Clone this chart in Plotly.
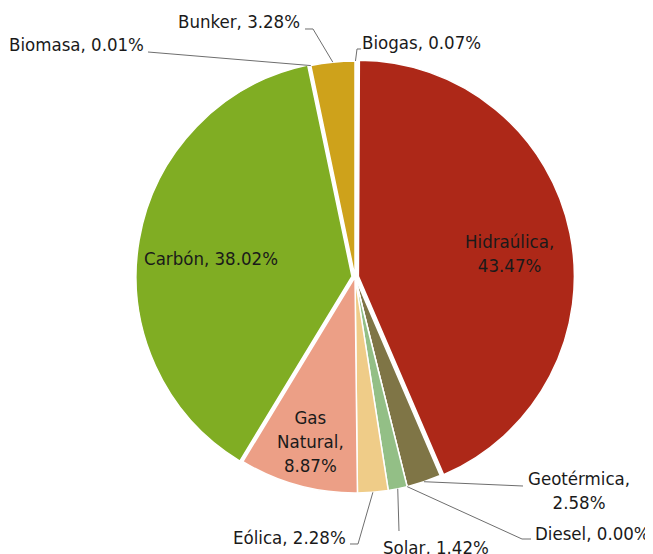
import math
import plotly.graph_objects as go

# ---- data (clockwise from 12 o'clock) ----
labels = ["Biogas", "Hidraúlica", "Geotérmica", "Diesel", "Solar",
          "Eólica", "Gas Natural", "Carbón", "Biomasa", "Bunker"]
values = [0.07, 43.47, 2.58, 0.00, 1.42, 2.28, 8.87, 38.02, 0.01, 3.28]

# ---- styles ----
colors = ["#F0A35E", "#AD2818", "#7F7546", "#4F6228", "#93BF86",
          "#EFCC88", "#EC9F86", "#80AD23", "#B7D39A", "#CEA21B"]
pulls = [0, 0.016, 0, 0, 0, 0, 0, 0.014, 0, 0]

OFF = 8                              # default page body margin
W, H = 653 - OFF, 554 - OFF          # figure size
CX, CY, R = 355, 277, 216            # pie centre / radius, window pixels
FONT = "DejaVu Sans Condensed, DejaVu Sans, sans-serif"
FS = 18.5
TXT = "#1a1a1a"
LINE = "#6e6e6e"

maxpull = max(pulls)
box = 2 * R * (1 + maxpull)
fcx, fcy = CX - OFF, CY - OFF
dom_x = [(fcx - box / 2) / W, (fcx + box / 2) / W]
y0 = 1 - (fcy + box / 2) / H
dom_y = [y0, y0 + box / H]

total = sum(values)
starts, mids = [], []
cum = 0.0
for v in values:
    starts.append(cum / total * 360)
    mids.append((cum + v / 2) / total * 360)
    cum += v


def px(ang, rad):
    a = math.radians(ang)
    return CX + rad * math.sin(a), CY - rad * math.cos(a)


def to_paper(p):
    return (p[0] - OFF) / W, 1 - (p[1] - OFF) / H


def fmt(i, breaks):
    lab = labels[i]
    val = f"{values[i]:.2f}%"
    if breaks == 0:
        return f"{lab}, {val}"
    if breaks == 1:
        return f"{lab},<br>{val}"
    parts = lab.split(" ")
    return "<br>".join(parts[:-1]) + "<br>" + parts[-1] + ",<br>" + val


fig = go.Figure(go.Pie(
    labels=labels, values=values, sort=False, direction="clockwise",
    rotation=0, pull=pulls, textinfo="none", hoverinfo="label+percent",
    marker=dict(colors=colors, line=dict(color="white", width=1.5)),
    domain=dict(x=dom_x, y=dom_y), showlegend=False,
))

annotations = []
shapes = []

# inside labels: (index, text centre in window px, line breaks)
inside = [(1, (509, 254), 1), (7, (211, 259), 0), (6, (310, 441), 2)]
for i, (x, y), b in inside:
    xp, yp = to_paper((x, y))
    annotations.append(dict(x=xp, y=yp, xref="paper", yref="paper",
                            text=fmt(i, b), showarrow=False,
                            xanchor="center", yanchor="middle",
                            font=dict(family=FONT, size=FS, color=TXT)))

# outside labels: index, anchor angle, leader waypoints, text pos, anchor, breaks
outside = [
    (0, mids[0], [(357, 49), (361, 49)], (360, 42), "left", 0),
    (9, mids[9], [(313, 29), (305, 29)], (302, 21), "right", 0),
    (8, starts[9], [(148, 52)], (146, 45), "right", 0),
    (2, mids[2], [(523, 486)], (579, 490), "center", 1),
    (3, starts[4], [(522, 539), (531, 539)], (533, 533), "left", 0),
    (4, mids[4], [(399, 531)], (436, 547), "center", 0),
    (5, mids[5], [(358, 544), (350, 544)], (348, 537), "right", 0),
]
for i, ang, pts, (tx, ty), anc, b in outside:
    start = px(ang, R)
    path = "M {:.5f},{:.5f}".format(*to_paper(start))
    for p in pts:
        path += " L {:.5f},{:.5f}".format(*to_paper(p))
    shapes.append(dict(type="path", path=path, xref="paper", yref="paper",
                       line=dict(color=LINE, width=1)))
    xp, yp = to_paper((tx, ty))
    annotations.append(dict(x=xp, y=yp, xref="paper", yref="paper",
                            text=fmt(i, b), showarrow=False,
                            xanchor=anc, yanchor="middle",
                            font=dict(family=FONT, size=FS, color=TXT)))

fig.update_layout(
    width=W, height=H, margin=dict(l=0, r=0, t=0, b=0),
    paper_bgcolor="white", plot_bgcolor="white",
    annotations=annotations, shapes=shapes,
    font=dict(family=FONT, size=FS, color=TXT),
)

fig.write_html("out.html")
